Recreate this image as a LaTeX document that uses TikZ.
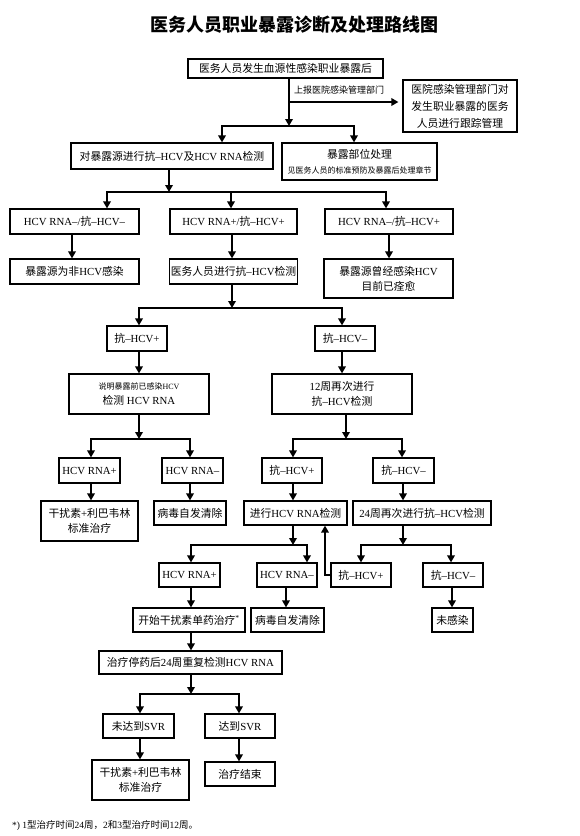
\documentclass[tikz,border=0pt]{standalone}
\usepackage{fontspec}
\setmainfont{Liberation Serif}
\newfontfamily\cjkfont{Noto Sans CJK SC}
\newfontfamily\latinfont{Liberation Serif}
\usetikzlibrary{arrows.meta}
\XeTeXinterchartokenstate=1
\newXeTeXintercharclass\CJKcls
\makeatletter
\count@="4E00
\loop
\XeTeXcharclass\count@=\CJKcls
\ifnum\count@<"9FFF \advance\count@ by 1 \repeat
\makeatother
\XeTeXcharclass"3001=\CJKcls
\XeTeXcharclass"3002=\CJKcls
\XeTeXcharclass"FF0C=\CJKcls
\XeTeXcharclass"2013=0
\XeTeXinterchartoks 0 \CJKcls = {\cjkfont}
\XeTeXinterchartoks 4095 \CJKcls = {\cjkfont}
\XeTeXinterchartoks \CJKcls 0 = {\latinfont}
\XeTeXinterchartoks \CJKcls 4095 = {\latinfont}
\tikzset{
  box/.style={draw, line width=1.2pt, inner xsep=1pt, inner ysep=0pt, align=center,
    font=\fontsize{10.8}{15}\selectfont},
  wh/.style 2 args={minimum width=#1pt, minimum height=#2pt},
  arr/.style={line width=2.1pt, -{Triangle[length=7pt,width=7.5pt]}},
}
\begin{document}
\begin{tikzpicture}[x=1pt,y=-1pt]
\useasboundingbox (0,0) rectangle (580,836);
\node[font=\fontsize{18}{20}\selectfont\bfseries] (title) at (294.5,25) {医务人员职业暴露诊断及处理路线图};

\node[box, wh={195}{19}] (B1) at (285.5,68.5) {医务人员发生血源性感染职业暴露后};
\node[box, wh={114}{52}, font=\fontsize{10.8}{17}\selectfont] (M) at (460,106) {医院感染管理部门对\\发生职业暴露的医务\\人员进行跟踪管理};
\node[box, wh={202}{26}] (B2a) at (172,156) {对暴露源进行抗–HCV及HCV RNA检测};
\node[box, wh={155}{37}] (B2b) at (359.5,161.5) {暴露部位处理\\{\fontsize{8}{10}\selectfont 见医务人员的标准预防及暴露后处理章节}};

\node[box, wh={129}{25}] (R3a) at (74.5,221.5) {HCV RNA–/抗–HCV–};
\node[box, wh={127}{25}] (R3b) at (233.5,221.5) {HCV RNA+/抗–HCV+};
\node[box, wh={128}{25}] (R3c) at (389,221.5) {HCV RNA–/抗–HCV+};

\node[box, wh={129}{25}] (R4a) at (74.5,271.5) {暴露源为非HCV感染};
\node[box, wh={127}{25}] (R4b) at (233.5,271.5) {医务人员进行抗–HCV检测};
\node[box, wh={129}{39}] (R4c) at (388.5,278.5) {暴露源曾经感染HCV\\目前已痊愈};

\node[box, wh={60}{25}] (R5a) at (137,338.5) {抗–HCV+};
\node[box, wh={60}{25}] (R5b) at (345,338.5) {抗–HCV–};

\node[box, wh={140}{40}] (R6a) at (139,394) {{\fontsize{8}{10}\selectfont 说明暴露前已感染HCV}\\检测 HCV RNA};
\node[box, wh={140}{40}] (R6b) at (342,394) {12周再次进行\\抗–HCV检测};

\node[box, wh={61}{25}] (R7a) at (89.5,470.5) {HCV RNA+};
\node[box, wh={61}{25}] (R7b) at (192.5,470.5) {HCV RNA–};
\node[box, wh={60}{25}] (R7c) at (292,470.5) {抗–HCV+};
\node[box, wh={61}{25}] (R7d) at (403.5,470.5) {抗–HCV–};

\node[box, wh={97}{40}] (R8a) at (89.5,521) {干扰素+利巴韦林\\标准治疗};
\node[box, wh={72}{24}] (R8b) at (190,513) {病毒自发清除};
\node[box, wh={103}{24}] (R8c) at (295.5,513) {进行HCV RNA检测};
\node[box, wh={138}{24}] (R8d) at (422,513) {24周再次进行抗–HCV检测};

\node[box, wh={61}{24}] (R9a) at (189.5,575) {HCV RNA+};
\node[box, wh={60}{24}] (R9b) at (287,575) {HCV RNA–};
\node[box, wh={60}{24}] (R9c) at (361,575) {抗–HCV+};
\node[box, wh={60}{24}] (R9d) at (453,575) {抗–HCV–};

\node[box, wh={112}{24}] (R10a) at (189,620) {开始干扰素单药治疗\textsuperscript{*}};
\node[box, wh={73}{24}] (R10b) at (287.5,620) {病毒自发清除};
\node[box, wh={41}{24}] (R10c) at (452.5,620) {未感染};

\node[box, wh={183}{23}] (R11) at (190.5,662.5) {治疗停药后24周重复检测HCV RNA};

\node[box, wh={71}{24}] (R12a) at (138.5,726) {未达到SVR};
\node[box, wh={70}{24}] (R12b) at (240,726) {达到SVR};

\node[box, wh={97}{40}] (R13a) at (140.5,780) {干扰素+利巴韦林\\标准治疗};
\node[box, wh={70}{24}] (R13b) at (240,774) {治疗结束};

\node[font=\fontsize{9.5}{11}\selectfont, anchor=west, inner sep=0pt] (fn) at (12,825) {*) 1型治疗时间24周，2和3型治疗时间12周。};

% connectors
\coordinate (j1) at (289,126);
\coordinate (r1) at (289,102);
\draw[arr] (B1.south -| j1) -- (j1);
\draw[arr] (j1) -| ([xshift=50pt]B2a.north);
\draw[arr] (j1) -| ([xshift=-5.5pt]B2b.north);
\draw[arr, shorten >=4pt] (r1) -- (r1 -| M.west);
\node[font=\fontsize{9}{10}\selectfont, anchor=west, inner sep=1pt] (lbl) at (293,90) {上报医院感染管理部门};

\coordinate (j2) at (169,192);
\draw[arr] (B2a.south -| j2) -- (j2);
\draw[arr] (j2) -| ([xshift=32.5pt]R3a.north);
\draw[arr] (j2) -| ([xshift=-2.5pt]R3b.north);
\draw[arr] (j2) -| ([xshift=-3pt]R3c.north);

\draw[arr] ([xshift=-2.5pt]R3a.south) -- ([xshift=-2.5pt]R3a.south |- R4a.north);
\draw[arr] ([xshift=-1.5pt]R3b.south) -- ([xshift=-1.5pt]R3b.south |- R4b.north);
\draw[arr] (R3c.south) -- (R3c.south |- R4c.north);

\coordinate (j3) at (232,308);
\draw[arr] (R4b.south -| j3) -- (j3);
\draw[arr] (j3) -| ([xshift=2pt]R5a.north);
\draw[arr] (j3) -| ([xshift=-3pt]R5b.north);

\draw[arr] ([xshift=2pt]R5a.south) -- ([xshift=2pt]R5a.south |- R6a.north);
\draw[arr] ([xshift=-3pt]R5b.south) -- ([xshift=-3pt]R5b.south |- R6b.north);

\coordinate (j4) at (139,439);
\draw[arr] (R6a.south -| j4) -- (j4);
\draw[arr] (j4) -| ([xshift=1.5pt]R7a.north);
\draw[arr] (j4) -| ([xshift=-2.5pt]R7b.north);
\coordinate (j5) at (346,439);
\draw[arr] (R6b.south -| j5) -- (j5);
\draw[arr] (j5) -| ([xshift=1pt]R7c.north);
\draw[arr] (j5) -| ([xshift=-1.5pt]R7d.north);

\draw[arr] ([xshift=1.5pt]R7a.south) -- ([xshift=1.5pt]R7a.south |- R8a.north);
\draw[arr] ([xshift=-2.5pt]R7b.south) -- ([xshift=-2.5pt]R7b.south |- R8b.north);
\draw[arr] ([xshift=1pt]R7c.south) -- ([xshift=1pt]R7c.south |- R8c.north);
\draw[arr] ([xshift=-0.5pt]R7d.south) -- ([xshift=-0.5pt]R7d.south |- R8d.north);

\coordinate (j6) at (293,545);
\draw[arr] (R8c.south -| j6) -- (j6);
\draw[arr] (j6) -| ([xshift=1.5pt]R9a.north);
\draw[arr] (j6) -| ([xshift=20pt]R9b.north);
\coordinate (j7) at (403,545);
\draw[arr] (R8d.south -| j7) -- (j7);
\draw[arr] (j7) -| (R9c.north);
\draw[arr] (j7) -| ([xshift=-2pt]R9d.north);

\draw[arr] (R9c.west) -| ([xshift=29.5pt]R8c.south);

\draw[arr] ([xshift=1.5pt]R9a.south) -- ([xshift=1.5pt]R9a.south |- R10a.north);
\draw[arr] ([xshift=-1pt]R9b.south) -- ([xshift=-1pt]R9b.south |- R10b.north);
\draw[arr] ([xshift=-1pt]R9d.south) -- ([xshift=-1pt]R9d.south |- R10c.north);

\draw[arr] ([xshift=2pt]R10a.south) -- ([xshift=2pt]R10a.south |- R11.north);
\coordinate (j8) at (191,694);
\draw[arr] (R11.south -| j8) -- (j8);
\draw[arr] (j8) -| ([xshift=1.5pt]R12a.north);
\draw[arr] (j8) -| ([xshift=-1pt]R12b.north);

\draw[arr] ([xshift=1.5pt]R12a.south) -- ([xshift=1.5pt]R12a.south |- R13a.north);
\draw[arr] ([xshift=-1pt]R12b.south) -- ([xshift=-1pt]R12b.south |- R13b.north);
\end{tikzpicture}
\end{document}
